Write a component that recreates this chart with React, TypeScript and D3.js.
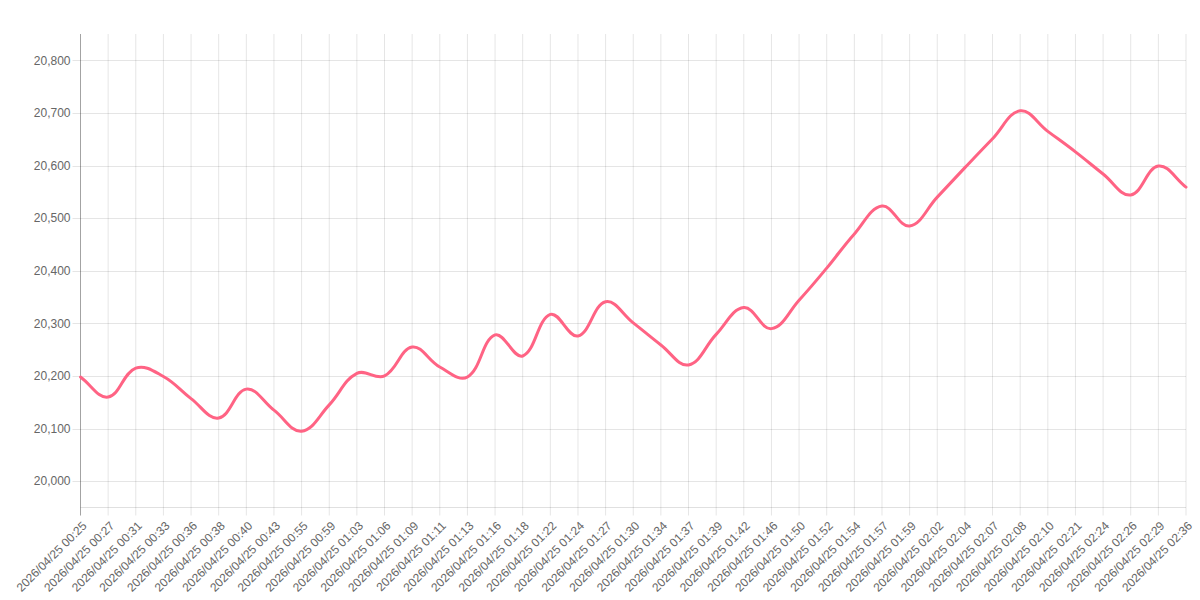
import React from "react";
import * as d3 from "d3";

const labels: string[] = [
  "00:25", "00:27", "00:31", "00:33", "00:36", "00:38", "00:40", "00:43", "00:55", "00:59",
  "01:03", "01:06", "01:09", "01:11", "01:13", "01:16", "01:18", "01:22", "01:24", "01:27",
  "01:30", "01:34", "01:37", "01:39", "01:42", "01:46", "01:50", "01:52", "01:54", "01:57",
  "01:59", "02:02", "02:04", "02:07", "02:08", "02:10", "02:21", "02:24", "02:26", "02:29",
  "02:36",
].map((t) => "2026/04/25 " + t);

const values: number[] = [
  20198, 20160, 20215, 20199, 20157, 20120, 20175, 20135, 20095, 20145,
  20205, 20200, 20255, 20217, 20198, 20278, 20238, 20317, 20276, 20341,
  20301, 20259, 20221, 20279, 20330, 20290, 20344, 20405, 20470, 20523,
  20485, 20540, 20596, 20651, 20704, 20665, 20626, 20584, 20544, 20599,
  20559,
];

const yTicks: number[] = [20000, 20100, 20200, 20300, 20400, 20500, 20600, 20700, 20800];

const W = 1200, H = 600;
const left = 80.5, right = 1186, top = 34, bottom = 507.5;
const FONT = "'Liberation Sans', Arial, Helvetica, sans-serif";

function splinePath(pts: [number, number][], t: number): string {
  const n = pts.length;
  const cps: { c1: [number, number]; c2: [number, number] }[] = [];
  for (let i = 0; i < n; i++) {
    const p = pts[Math.max(0, i - 1)];
    const c = pts[i];
    const nx = pts[Math.min(n - 1, i + 1)];
    const d01 = Math.hypot(c[0] - p[0], c[1] - p[1]);
    const d12 = Math.hypot(nx[0] - c[0], nx[1] - c[1]);
    let s01 = d01 / (d01 + d12);
    let s12 = d12 / (d01 + d12);
    if (isNaN(s01)) s01 = 0;
    if (isNaN(s12)) s12 = 0;
    const fa = t * s01, fb = t * s12;
    cps.push({
      c1: [c[0] - fa * (nx[0] - p[0]), c[1] - fa * (nx[1] - p[1])],
      c2: [c[0] + fb * (nx[0] - p[0]), c[1] + fb * (nx[1] - p[1])],
    });
  }
  let d = `M${pts[0][0]},${pts[0][1]}`;
  for (let i = 1; i < n; i++) {
    const a = cps[i - 1].c2, b = cps[i].c1;
    d += `C${a[0]},${a[1]},${b[0]},${b[1]},${pts[i][0]},${pts[i][1]}`;
  }
  return d;
}

export default function App() {
  const x = d3.scalePoint<number>().domain(d3.range(labels.length)).range([left, right]);
  const y = d3.scaleLinear().domain([19950, 20850]).range([bottom, top]);
  const pts: [number, number][] = values.map((v, i) => [x(i) as number, y(v)]);
  const fmt = d3.format(",");
  return (
    <div style={{ position: "absolute", left: 0, top: 0 }}>
      <svg width={W} height={H} style={{ display: "block", background: "#fff" }}>
        {/* vertical grid */}
        {labels.map((_, i) => (
          <line key={"vg" + i} x1={x(i)} x2={x(i)} y1={top} y2={bottom + 8}
            stroke={i === 0 ? "rgba(0,0,0,0.2)" : "rgba(0,0,0,0.1)"} strokeWidth={1} />
        ))}
        {/* horizontal grid */}
        {yTicks.map((t) => (
          <line key={"hg" + t} x1={left - 8} x2={right} y1={Math.round(y(t)) + 0.5} y2={Math.round(y(t)) + 0.5}
            stroke="rgba(0,0,0,0.1)" strokeWidth={1} />
        ))}
        <line x1={left} x2={right} y1={bottom} y2={bottom} stroke="rgba(0,0,0,0.12)" />
        <line x1={left} x2={left} y1={top} y2={bottom + 8} stroke="rgba(0,0,0,0.2)" />
        {/* y labels */}
        {yTicks.map((t) => (
          <text key={"yl" + t} x={left - 10} y={y(t)} dy="0.35em" textAnchor="end"
            fontFamily={FONT} fontSize={12} fill="#666">{fmt(t)}</text>
        ))}
        {/* x labels */}
        {labels.map((l, i) => (
          <text key={"xl" + i} transform={`translate(${(x(i) as number) + 4},${bottom + 16}) rotate(-45)`}
            textAnchor="end" dy="0.35em" fontFamily={FONT} fontSize={12} fill="#666">{l}</text>
        ))}
        <path d={splinePath(pts, 0.4)} fill="none" stroke="rgb(255,99,132)" strokeWidth={3}
          strokeLinejoin="round" strokeLinecap="round" />
      </svg>
    </div>
  );
}
